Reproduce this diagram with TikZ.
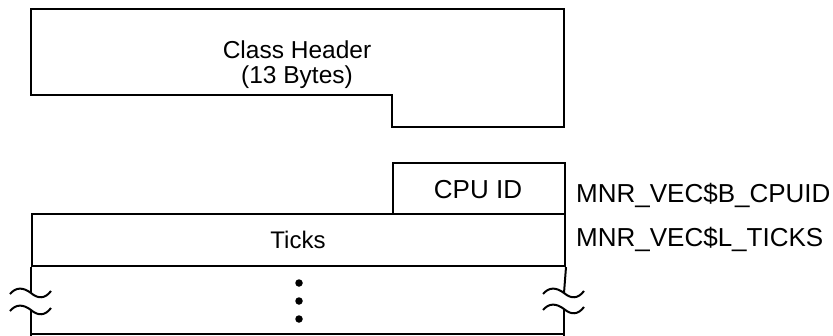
\documentclass[tikz,border=0pt]{standalone}
\usepackage{fontspec}
\setmainfont{Liberation Sans}
\begin{document}
\begin{tikzpicture}[x=1pt,y=-1pt,
  ln/.style={line width=2pt,line join=miter},
  lbl/.style={inner sep=0pt,anchor=base,font=\fontsize{24.5}{28}\selectfont},
  biglbl/.style={lbl,font=\fontsize{26}{30}\selectfont},
  fieldbox/.style={ln,draw,inner sep=0pt,anchor=north west},
  dotmark/.style={circle,fill,inner sep=0pt,minimum size=7.5pt}]
\useasboundingbox (0,0) rectangle (833,335);
% Class header
\draw[ln] (31,9) -- (564,9) -- (564,127) -- (392,127) -- (392,95) -- (31,95) -- cycle;
\node[lbl] (ch1) at (297,58) {Class Header};
\node[lbl] (ch2) at (297,83) {(13 Bytes)};
% CPU ID
\node[fieldbox,minimum width=172pt,minimum height=51pt] (cpu) at (392,162) {};
\node[biglbl] (cput) at (478,198) {CPU ID};
\node[biglbl,anchor=base west] (cpul) at (576,202) {MNR\_VEC\$B\_CPUID};
% Ticks
\node[fieldbox,minimum width=533pt,minimum height=52pt] (ticks) at (31,213) {};
\node[lbl,font=\fontsize{24}{28}\selectfont] (tickst) at (298,248) {Ticks};
\node[biglbl,anchor=base west] (tickl) at (576,246) {MNR\_VEC\$L\_TICKS};
% lower region
\coordinate (lt) at (ticks.south west);
\coordinate (rt) at (ticks.south east);
\coordinate (lw1) at (31,293);
\coordinate (lw2) at (31,310);
\coordinate (rw1) at (564,293);
\coordinate (rw2) at (564,309);
\draw[ln] (lt) -- (lw1);
\draw[ln] (lw2) -- (31,336);
\draw[ln] (rt) -- (rw1);
\draw[ln] (rw2) -- (564,336);
\draw[line width=1.6pt] (31,334) -- (564,334);
% break marks
\foreach \cx/\cy in {31/293,31/310,564/293,564/309}{
  \draw[line width=2pt] (\cx-21,\cy+1) .. controls (\cx-15,\cy-6) and (\cx-8,\cy-6) .. (\cx,\cy)
     .. controls (\cx+7,\cy+6) and (\cx+14,\cy+6) .. (\cx+20,\cy-2);
}
% dots
\node[dotmark] (d1) at (299,283) {};
\node[dotmark] (d2) at (299,301) {};
\node[dotmark] (d3) at (299,319) {};
\end{tikzpicture}
\end{document}
